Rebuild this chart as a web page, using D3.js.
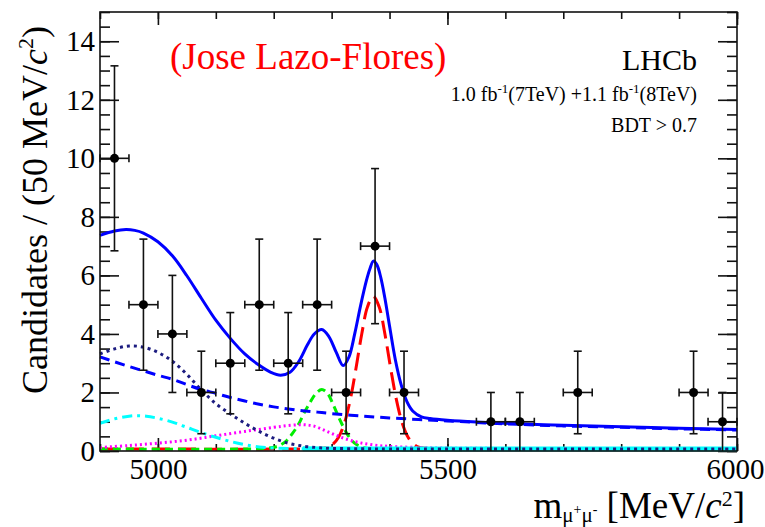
<!DOCTYPE html>
<html>
<head>
<meta charset="utf-8">
<script src="https://cdn.jsdelivr.net/npm/d3@7"></script>
<style>
  body { margin: 0; background: #fff; }
  svg { display: block; }
</style>
</head>
<body>
<div id="chart"></div>
<script>
// data points (50 MeV bins, empty bins are not drawn)
var binCentres = [4925, 4975, 5025, 5075, 5125, 5175, 5225, 5275, 5325, 5375, 5425, 5575, 5625, 5725, 5925, 5975];
var counts     = [10, 5, 4, 2, 3, 5, 3, 5, 2, 7, 2, 1, 1, 2, 2, 1];
var countErrs  = [3.16, 2.24, 2, 1.41, 1.73, 2.24, 1.73, 2.24, 1.41, 2.65, 1.41, 1, 1, 1.41, 1.41, 1];
var binHalfWidth = 25;

// fit curves, [mass, candidates]
var totalFit = [[4900,7.3],[4925,7.45],[4945,7.5],[4960,7.47],[4975,7.38],[5000,7.08],[5025,6.6],[5050,5.92],
  [5075,5.15],[5100,4.4],[5125,3.78],[5150,3.25],[5175,2.86],[5195,2.62],[5212,2.52],[5228,2.62],[5243,2.98],
  [5258,3.55],[5270,3.93],[5283,4.08],[5295,3.85],[5308,3.3],[5320,2.85],[5330,3.15],[5340,3.95],[5350,4.9],
  [5360,5.75],[5366,6.15],[5372,6.42],[5378,6.3],[5385,5.85],[5392,5.15],[5400,4.2],[5410,3.05],[5420,2.2],
  [5430,1.62],[5440,1.3],[5455,1.1],[5470,1.04],[5500,0.98],[5550,0.92],[5600,0.88],[5700,0.81],[5800,0.76],
  [5900,0.71],[6000,0.67]];
var combBkg = [[4900,3.15],[4925,2.98],[4950,2.82],[4975,2.67],[5000,2.52],[5025,2.38],[5050,2.2],[5075,2.03],
  [5100,1.9],[5125,1.76],[5150,1.64],[5175,1.53],[5200,1.44],[5225,1.37],[5250,1.31],[5275,1.26],[5300,1.21],
  [5350,1.13],[5400,1.06],[5450,1.01],[5500,0.96],[5600,0.86],[5700,0.79],[5800,0.74],[5900,0.69],[6000,0.65]];
var semilepBkg = [[4900,3.25],[4925,3.42],[4950,3.52],[4975,3.48],[5000,3.3],[5025,3.0],[5050,2.55],[5075,2.02],
  [5100,1.55],[5125,1.2],[5150,0.88],[5175,0.6],[5200,0.37],[5225,0.2],[5250,0.1],[5275,0.05],[5300,0.02],
  [5350,0.01],[5400,0],[5700,0],[6000,0]];
var peakingBkg = [[4900,0.05],[4950,0.12],[5000,0.2],[5050,0.3],[5100,0.45],[5150,0.6],[5200,0.74],[5225,0.8],
  [5250,0.83],[5270,0.78],[5290,0.62],[5310,0.45],[5330,0.31],[5350,0.21],[5375,0.13],[5400,0.09],[5450,0.05],
  [5500,0.03],[5600,0.02],[6000,0.01]];
var misidBkg = [[4900,0.88],[4925,1.03],[4950,1.12],[4965,1.14],[4980,1.12],[5000,1.05],[5025,0.92],[5050,0.74],
  [5075,0.56],[5100,0.4],[5125,0.26],[5150,0.15],[5175,0.07],[5200,0.03],[5250,0.01],[5300,0],[5700,0],[6000,0]];
var bdSignal = [[4900,0],[5150,0],[5190,0.03],[5203,0.07],[5213,0.15],[5223,0.3],[5233,0.55],[5243,0.85],
  [5253,1.25],[5263,1.6],[5273,1.9],[5283,2.03],[5293,1.9],[5303,1.5],[5313,1.05],[5323,0.65],[5333,0.33],
  [5343,0.15],[5353,0.06],[5373,0],[5700,0],[6000,0]];
var bsSignal = [[4900,0],[5250,0],[5272,0.01],[5292,0.05],[5302,0.16],[5312,0.4],[5322,0.88],[5332,1.67],
  [5342,2.75],[5352,3.93],[5362,4.86],[5372,5.22],[5382,4.86],[5392,3.93],[5402,2.75],[5412,1.67],[5422,0.88],
  [5432,0.4],[5442,0.16],[5452,0.05],[5472,0.01],[5500,0],[5800,0],[6000,0]];

var xMajorTicks = [5000, 5500, 6000];
var yMajorTicks = [0, 2, 4, 6, 8, 10, 12, 14];

var svgWidth = 765;
var svgHeight = 527;
var margin = { top: 12, right: 28, bottom: 76, left: 100 };
var width = svgWidth - margin.left - margin.right;
var height = svgHeight - margin.top - margin.bottom;
var serif = "'Liberation Serif', 'Times New Roman', serif";

var svg = d3.select("#chart")
  .append("svg")
  .attr("width", svgWidth)
  .attr("height", svgHeight);

var chartGroup = svg.append("g")
  .attr("transform", `translate(${margin.left}, ${margin.top})`);

var xScale = d3.scaleLinear().domain([4900, 6000]).range([0, width]);
var yScale = d3.scaleLinear().domain([0, 15]).range([height, 0]);

var xMinor = d3.range(4900, 6001, 100);
var yMinor = d3.range(0, 15.01, 0.5);

// axes: ROOT style, ticks pointing inwards on all four sides
function styleAxis(g) {
  g.attr("font-family", null).attr("font-size", null);
  g.select(".domain").remove();
  g.selectAll("line").attr("stroke", "#111").attr("stroke-width", 1.6);
  g.selectAll("text")
    .style("font-family", serif)
    .style("font-size", "29px")
    .attr("fill", "#000");
}

chartGroup.append("g")
  .attr("transform", `translate(0, ${height})`)
  .call(d3.axisBottom(xScale).tickValues(xMinor).tickSize(-7).tickFormat(""))
  .call(styleAxis);
var xLabels = chartGroup.append("g")
  .attr("transform", `translate(0, ${height})`)
  .call(d3.axisBottom(xScale).tickValues(xMajorTicks).tickSize(-13).tickPadding(7).tickFormat(d3.format("d")))
  .call(styleAxis);
// keep the last label inside the page
xLabels.selectAll("text").filter(d => d === 6000).attr("dx", -2);
chartGroup.append("g")
  .call(d3.axisTop(xScale).tickValues(xMinor).tickSize(-7).tickFormat(""))
  .call(styleAxis);
chartGroup.append("g")
  .call(d3.axisTop(xScale).tickValues(xMajorTicks).tickSize(-13).tickFormat(""))
  .call(styleAxis);

chartGroup.append("g")
  .call(d3.axisLeft(yScale).tickValues(yMinor).tickSize(-10).tickFormat(""))
  .call(styleAxis);
chartGroup.append("g")
  .call(d3.axisLeft(yScale).tickValues(yMajorTicks).tickSize(-19).tickPadding(5).tickFormat(d3.format("d")))
  .call(styleAxis);
chartGroup.append("g")
  .attr("transform", `translate(${width}, 0)`)
  .call(d3.axisRight(yScale).tickValues(yMinor).tickSize(-10).tickFormat(""))
  .call(styleAxis);
chartGroup.append("g")
  .attr("transform", `translate(${width}, 0)`)
  .call(d3.axisRight(yScale).tickValues(yMajorTicks).tickSize(-19).tickFormat(""))
  .call(styleAxis);

// fit components
var line = d3.line()
  .x(d => xScale(d[0]))
  .y(d => yScale(d[1]) - 2)
  .curve(d3.curveCatmullRom.alpha(0.5));

var components = [
  { data: bsSignal,   color: "#ff0000", dash: "18,8", w: 3 },
  { data: bdSignal,   color: "#00ee00", dash: "8,5", w: 3 },
  { data: peakingBkg, color: "#ff00ff", dash: "2,3", w: 3 },
  { data: misidBkg.filter(d => d[0] <= 5300), color: "#00ffff", dash: "10,5,3,5", w: 3 },
  // the flat tail of the mis-id curve prints as a solid band in the original
  { data: misidBkg.filter(d => d[0] >= 5250), color: "#00ffff", dash: null, w: 5 },
  { data: semilepBkg, color: "#1c1c80", dash: "3,4", w: 3 },
  { data: combBkg,    color: "#0000ff", dash: "10,6", w: 3 },
  { data: totalFit,   color: "#0000ff", dash: null, w: 3 }
];

components.forEach(function(c) {
  chartGroup.append("path")
    .datum(c.data)
    .attr("d", line)
    .attr("fill", "none")
    .attr("stroke", c.color)
    .attr("stroke-width", c.w)
    .attr("stroke-dasharray", c.dash);
});

// data points with error bars
var points = binCentres.map((m, i) => ({ m: m, n: counts[i], e: countErrs[i] }));
var pts = chartGroup.selectAll(".pt")
  .data(points)
  .enter()
  .append("g")
  .attr("class", "pt");

pts.append("line")
  .attr("x1", d => xScale(d.m)).attr("x2", d => xScale(d.m))
  .attr("y1", d => yScale(Math.max(d.n - d.e, 0))).attr("y2", d => yScale(d.n + d.e));
pts.append("line")
  .attr("x1", d => xScale(d.m - binHalfWidth)).attr("x2", d => xScale(d.m + binHalfWidth))
  .attr("y1", d => yScale(d.n)).attr("y2", d => yScale(d.n));
pts.append("line")
  .attr("x1", d => xScale(d.m) - 4).attr("x2", d => xScale(d.m) + 4)
  .attr("y1", d => yScale(d.n + d.e)).attr("y2", d => yScale(d.n + d.e));
pts.filter(d => d.n - d.e > 0).append("line")
  .attr("x1", d => xScale(d.m) - 4).attr("x2", d => xScale(d.m) + 4)
  .attr("y1", d => yScale(d.n - d.e)).attr("y2", d => yScale(d.n - d.e));
pts.append("line")
  .attr("x1", d => xScale(d.m - binHalfWidth)).attr("x2", d => xScale(d.m - binHalfWidth))
  .attr("y1", d => yScale(d.n) - 4).attr("y2", d => yScale(d.n) + 4);
pts.append("line")
  .attr("x1", d => xScale(d.m + binHalfWidth)).attr("x2", d => xScale(d.m + binHalfWidth))
  .attr("y1", d => yScale(d.n) - 4).attr("y2", d => yScale(d.n) + 4);
pts.selectAll("line").attr("stroke", "#111").attr("stroke-width", 1.6);
pts.append("circle")
  .attr("cx", d => xScale(d.m))
  .attr("cy", d => yScale(d.n))
  .attr("r", 4.5)
  .attr("fill", "#000");

// frame
chartGroup.append("rect")
  .attr("width", width)
  .attr("height", height)
  .attr("fill", "none")
  .attr("stroke", "#111")
  .attr("stroke-width", 1.6);

// texts
svg.append("text")
  .attr("x", 170).attr("y", 69)
  .style("font-family", serif).style("font-size", "37px").attr("fill", "#ff0000")
  .text("(Jose Lazo-Flores)");

svg.append("text")
  .attr("x", 697).attr("y", 70)
  .attr("text-anchor", "end")
  .style("font-family", serif).style("font-size", "30px").attr("fill", "#000")
  .text("LHCb");

var lumi = svg.append("text")
  .attr("x", 697).attr("y", 101)
  .attr("text-anchor", "end")
  .style("font-family", serif).style("font-size", "20px").attr("fill", "#000");
lumi.append("tspan").text("1.0 fb");
lumi.append("tspan").attr("dy", -8).style("font-size", "13px").text("-1");
lumi.append("tspan").attr("dy", 8).text("(7TeV) +1.1 fb");
lumi.append("tspan").attr("dy", -8).style("font-size", "13px").text("-1");
lumi.append("tspan").attr("dy", 8).text("(8TeV)");

svg.append("text")
  .attr("x", 697).attr("y", 132)
  .attr("text-anchor", "end")
  .style("font-family", serif).style("font-size", "20px").attr("fill", "#000")
  .text("BDT > 0.7");

var yTitle = svg.append("text")
  .attr("transform", "translate(47, 210) rotate(-90)")
  .attr("text-anchor", "middle")
  .style("font-family", serif).style("font-size", "36px").attr("fill", "#000");
yTitle.append("tspan").text("Candidates / (50 MeV/");
yTitle.append("tspan").style("font-style", "italic").text("c");
yTitle.append("tspan").attr("dy", -14).style("font-size", "22px").text("2");
yTitle.append("tspan").attr("dy", 14).text(")");

var xTitle = svg.append("text")
  .attr("x", 745).attr("y", 518)
  .attr("text-anchor", "end")
  .style("font-family", serif).style("font-size", "37px").attr("fill", "#000");
xTitle.append("tspan").text("m");
xTitle.append("tspan").attr("dy", 4).style("font-size", "21px").text("\u03bc");
xTitle.append("tspan").attr("dy", -8).style("font-size", "14px").text("+");
xTitle.append("tspan").attr("dy", 8).style("font-size", "21px").text("\u03bc");
xTitle.append("tspan").attr("dy", -8).style("font-size", "14px").text("-");
xTitle.append("tspan").attr("dy", 4).text(" [MeV/");
xTitle.append("tspan").style("font-style", "italic").text("c");
xTitle.append("tspan").attr("dy", -12).style("font-size", "22px").text("2");
xTitle.append("tspan").attr("dy", 12).text("]");
</script>
</body>
</html>
